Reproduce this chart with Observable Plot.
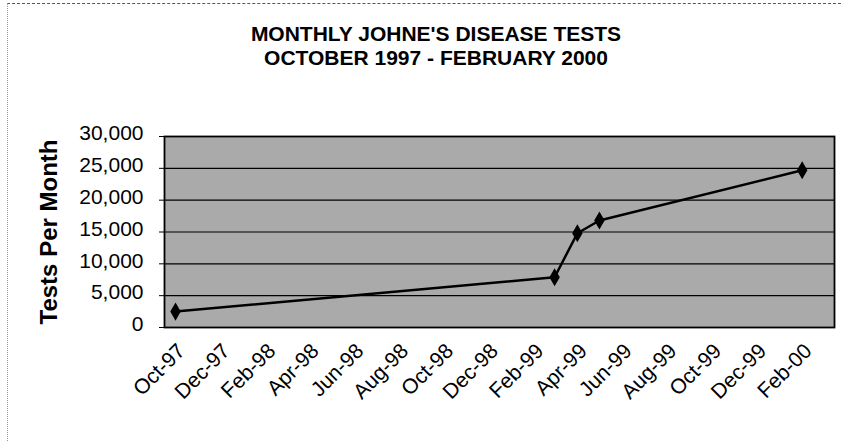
<!DOCTYPE html>
<html><head><meta charset="utf-8">
<script src="https://cdn.jsdelivr.net/npm/d3@7"></script>
<script src="https://cdn.jsdelivr.net/npm/@observablehq/plot@0.6"></script>
<style>
html,body{margin:0;padding:0;background:#fff;overflow:hidden}
#wrap{position:relative;width:841px;height:441px;font-family:"Liberation Sans",Arial,sans-serif}
#edge{position:absolute;left:7px;top:3px;right:0;bottom:0;border-top:1px dashed #555;border-left:1px dotted #999}
#title{position:absolute;left:31px;top:0;width:810px;height:100px;text-align:center;font-weight:bold;font-size:21px;line-height:24px;padding-top:22px;box-sizing:border-box;letter-spacing:0;color:#000}
#chart{position:absolute;left:0;top:100px}
</style></head>
<body>
<div id="wrap">
  <div id="edge"></div>
  <div id="title">MONTHLY JOHNE'S DISEASE TESTS<br>OCTOBER 1997 - FEBRUARY 2000</div>
  <div id="chart"></div>
</div>
<script>
// Data
const months = ["1997-10", "1999-03", "1999-04", "1999-05", "2000-02"];
const tests = [2500, 7900, 14800, 16800, 24700];
const tickMonths = ["1997-10","1997-12","1998-02","1998-04","1998-06","1998-08","1998-10","1998-12","1999-02","1999-04","1999-06","1999-08","1999-10","1999-12","2000-02"];
const tickLabels = ["Oct-97","Dec-97","Feb-98","Apr-98","Jun-98","Aug-98","Oct-98","Dec-98","Feb-99","Apr-99","Jun-99","Aug-99","Oct-99","Dec-99","Feb-00"];
const yTicks = [0, 5000, 10000, 15000, 20000, 25000, 30000];
const yTitle = "Tests Per Month";

const toDate = m => new Date(m + "-01T00:00:00Z");
const data = months.map((m, i) => ({date: toDate(m), tests: tests[i]}));
const tickDates = tickMonths.map(toDate);
const labelByTime = new Map(tickDates.map((d, i) => [+d, tickLabels[i]]));

const chart = Plot.plot({
  width: 841,
  height: 341,
  marginTop: 36,
  marginBottom: 114,
  marginLeft: 164,
  marginRight: 7,
  style: {fontFamily: '"Liberation Sans", Arial, sans-serif', fontSize: "21px", color: "#000", background: "transparent"},
  x: {type: "utc", domain: [new Date(Date.UTC(1997, 8, 16)), new Date(Date.UTC(2000, 2, 16))]},
  y: {domain: [0, 30000]},
  marks: [
    Plot.frame({fill: "#aaaaaa"}),
    Plot.gridY(yTicks, {stroke: "#000", strokeOpacity: 1, strokeWidth: 1.2}),
    Plot.axisY(yTicks, {tickSize: 5, tickFormat: () => "", label: null}),
    Plot.axisY(yTicks, {tickSize: 0, tickPadding: 21, dy: -3, tickFormat: d3.format(","), label: null, fontSize: 21}),
    Plot.axisX(tickDates, {tickSize: 0, tickRotate: -45, tickPadding: 20, dx: 6, tickFormat: d => labelByTime.get(+d), label: null, fontSize: 21}),
    Plot.line(data, {x: "date", y: "tests", stroke: "#000", strokeWidth: 2.5}),
    Plot.dot(data, {x: "date", y: "tests", symbol: "diamond", fill: "#000", stroke: "none", r: 5.5}),
    Plot.frame({stroke: "#000", strokeWidth: 1.8}),
    Plot.text([yTitle], {frameAnchor: "left", textAnchor: "middle", dx: -115, rotate: -90, fontWeight: "bold", fontSize: 24, fill: "#000"})
  ]
});
document.getElementById("chart").appendChild(chart);
</script>
</body></html>
